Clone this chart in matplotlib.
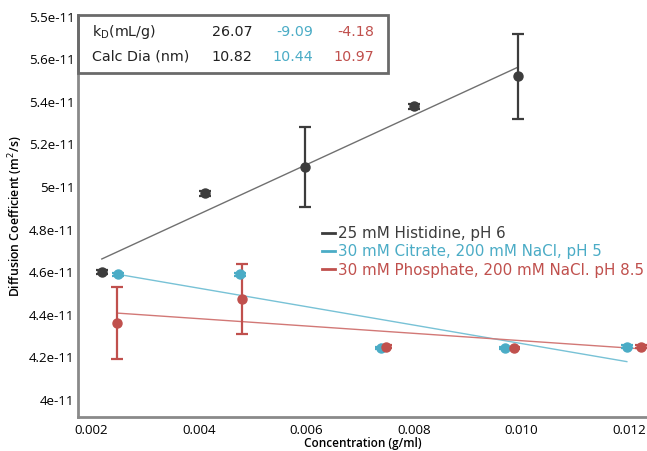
import numpy as np
from matplotlib import pyplot as plt
from matplotlib.patches import Rectangle
from matplotlib.lines import Line2D

# concentrations (g/ml) and diffusion coefficients (units of 1e-11 m2/s)
his_x = [0.0022, 0.00412, 0.00598, 0.0080, 0.00994]
his_y = [4.60, 4.97, 5.094, 5.38, 5.52]
his_err = [0.01, 0.01, 0.19, 0.012, 0.20]

cit_x = [0.0025, 0.00477, 0.00739, 0.00969, 0.01196]
cit_y = [4.59, 4.59, 4.245, 4.245, 4.25]
cit_err = [0.008, 0.008, 0.006, 0.006, 0.008]

pho_x = [0.00248, 0.0048, 0.00748, 0.00986, 0.01222]
pho_y = [4.36, 4.474, 4.25, 4.245, 4.25]
pho_err = [0.17, 0.165, 0.006, 0.006, 0.008]

# linear fit lines (end points)
his_fit_x = [0.0022, 0.00994]
his_fit_y = [4.662, 5.563]
cit_fit_x = [0.0025, 0.01196]
cit_fit_y = [4.59, 4.18]
pho_fit_x = [0.00248, 0.01222]
pho_fit_y = [4.408, 4.24]

labels = ['25 mM Histidine, pH 6',
          '30 mM Citrate, 200 mM NaCl, pH 5',
          '30 mM Phosphate, 200 mM NaCl. pH 8.5']
kd = ['26.07', '-9.09', '-4.18']
dia = ['10.82', '10.44', '10.97']

y_ticks = [4.0, 4.2, 4.4, 4.6, 4.8, 5.0, 5.2, 5.4, 5.6, 5.8]
y_tick_labels = ['4e-11', '4.2e-11', '4.4e-11', '4.6e-11', '4.8e-11',
                 '5e-11', '5.2e-11', '5.4e-11', '5.6e-11', '5.5e-11']
x_ticks = [0.002, 0.004, 0.006, 0.008, 0.010, 0.012]
x_tick_labels = ['0.002', '0.004', '0.006', '0.008', '0.010', '0.012']

black = '#3c3c3c'
blue = '#4bacc6'
red = '#c0504d'
fit_cols = ['#707070', '#78c2d6', '#d27876']
cols = [black, blue, red]

e = 1e-11
fig = plt.figure(figsize=(6.47, 4.51), dpi=100)
ax = fig.add_axes([0.1206, 0.0754, 0.8794, 0.8913])

series = [(his_x, his_y, his_err, his_fit_x, his_fit_y),
          (cit_x, cit_y, cit_err, cit_fit_x, cit_fit_y),
          (pho_x, pho_y, pho_err, pho_fit_x, pho_fit_y)]

for i, (x, y, err, fx, fy) in enumerate(series):
    ax.plot(fx, np.array(fy) * e, color=fit_cols[i], lw=1.0, zorder=2)
    ax.errorbar(x, np.array(y) * e, yerr=np.array(err) * e, fmt='o',
                color=cols[i], ms=6.5, elinewidth=1.6, capsize=4.5,
                capthick=1.6, zorder=3)

ax.set_xlim(0.001758, 0.012335)
ax.set_ylim(3.920 * e, 5.8075 * e)
ax.set_xticks(x_ticks, x_tick_labels, fontsize=9.6, family='Open Sans')
ax.set_yticks(np.array(y_ticks) * e, y_tick_labels, fontsize=9.6, family='Open Sans')
ax.tick_params(length=0)
ax.tick_params(axis='y', pad=2.5)
ax.tick_params(axis='x', pad=5)
for s in ['top', 'right']:
    ax.spines[s].set_visible(False)
for s in ['left', 'bottom']:
    ax.spines[s].set_color('#8a8a8a')
    ax.spines[s].set_linewidth(2)

ax.set_xlabel('Concentration (g/ml)', fontsize=8.5, family='Open Sans',
              fontweight='semibold', labelpad=0)
ax.set_ylabel('Diffusion Coefficient (m$^2$/s)', fontsize=8.8, family='Open Sans',
              fontweight='semibold', labelpad=3)

# legend
handles = [Line2D([], [], color=c, lw=2) for c in cols]
leg = ax.legend(handles, labels, loc='upper left', bbox_to_anchor=(0.429, 0.474),
                frameon=False, handlelength=0.85, handletextpad=0.2,
                labelspacing=0.2, borderaxespad=0, borderpad=0,
                prop={'family': 'DejaVu Sans', 'size': 10.9})
for t, c in zip(leg.get_texts(), cols):
    t.set_color(c)

# kD table box
ax.add_patch(Rectangle((0.0, 0.856), 0.545, 0.144, transform=ax.transAxes,
                       fill=False, edgecolor='#6a6a6a', lw=2, clip_on=False,
                       zorder=5))
tp = dict(transform=ax.transAxes, fontsize=10.3, family='DejaVu Sans', va='center')
ax.text(0.025, 0.958, 'k$_\\mathregular{D}$(mL/g)', color='#222222', **tp)
ax.text(0.025, 0.896, 'Calc Dia (nm)', color='#222222', **tp)
xs = [0.306, 0.413, 0.520]
for j in range(3):
    ax.text(xs[j], 0.958, kd[j], color=cols[j] if j else '#222222', ha='right', **tp)
    ax.text(xs[j], 0.896, dia[j], color=cols[j] if j else '#222222', ha='right', **tp)

fig.savefig('out.png', dpi=100)
